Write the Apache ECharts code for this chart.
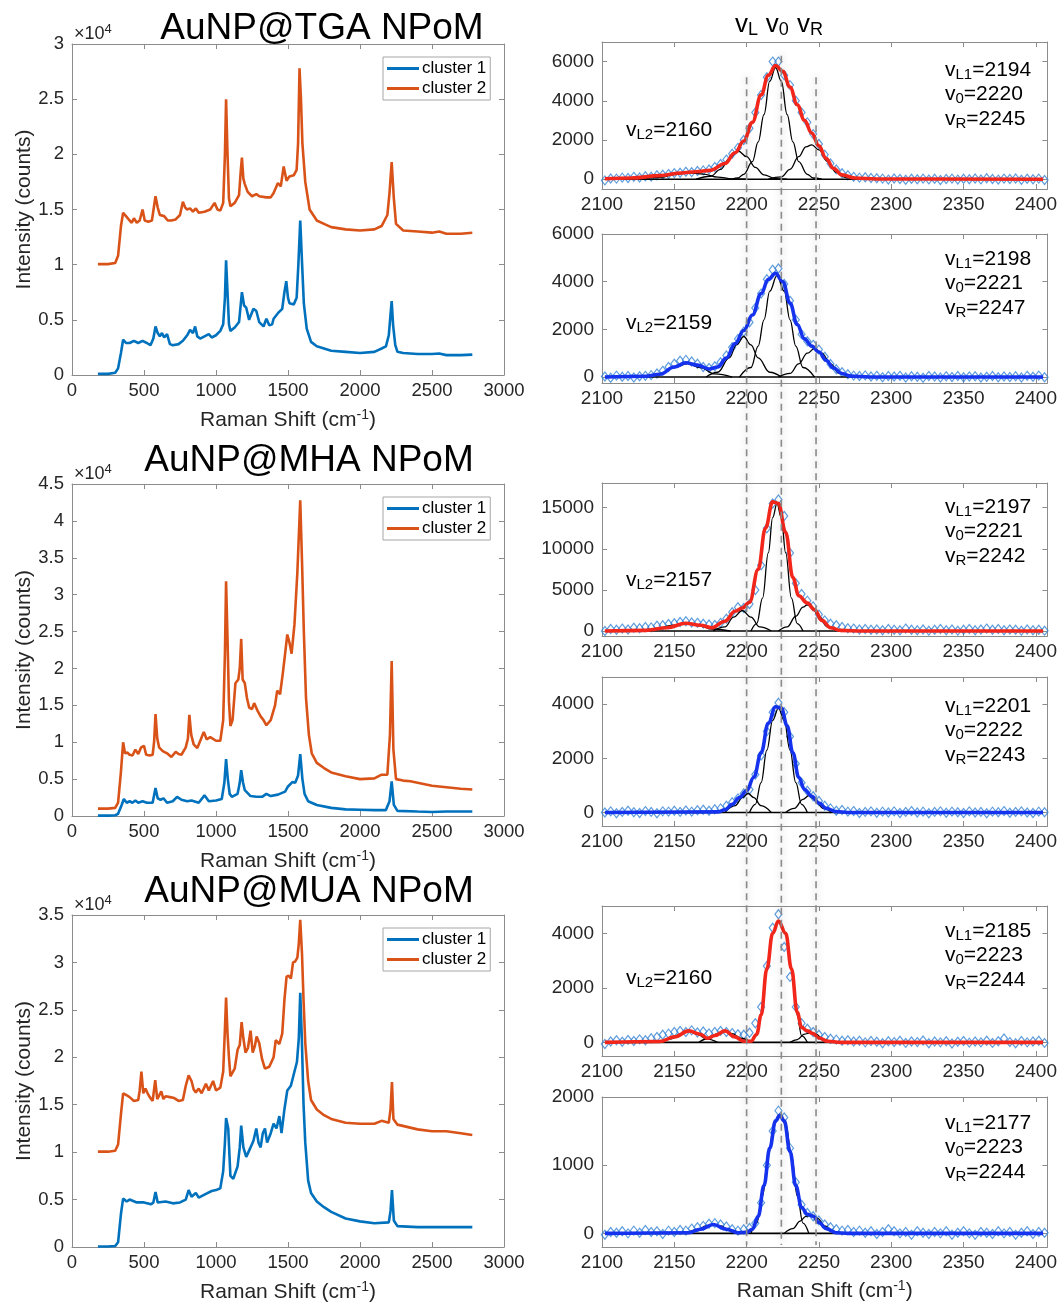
<!DOCTYPE html>
<html>
<head>
<meta charset="utf-8">
<title>Raman NPoM</title>
<script src="https://cdn.jsdelivr.net/npm/echarts@6/dist/echarts.min.js"></script>
<style>
    html, body { margin: 0; padding: 0; background: #fff; }
    #main { width: 1060px; height: 1304px; }
</style>
</head>
<body>
<div id="main"></div>
<script type="text/javascript">
var FONT = 'Liberation Sans, Arial, Helvetica, sans-serif';
var BLUE = '#0072BD', ORANGE = '#D95319';
var AXIS = '#8c8c8c', LABEL = '#262626';

// ---- left: full spectra, [shift, counts] ----
var tgaC1 = [[180,100],[250,100],[300,200],[320,600],[340,2000],[355,3200],[375,2900],[400,2900],[430,3100],[460,2900],[490,3100],[520,2900],[545,2700],[565,3300],[580,4400],[595,3800],[610,3500],[625,3800],[640,3400],[660,3700],[680,2800],[700,2700],[740,2800],[770,3100],[800,3600],[820,4100],[840,3800],[855,4400],[870,3500],[890,3300],[920,3500],[950,3700],[970,3400],[1000,3600],[1030,4000],[1050,4600],[1062,7000],[1070,10400],[1080,7500],[1090,4600],[1100,4000],[1130,4300],[1160,4800],[1180,7500],[1195,6300],[1210,6100],[1230,5000],[1260,6000],[1280,5800],[1300,4800],[1330,4400],[1350,5100],[1370,4500],[1390,4600],[1400,5100],[1430,5600],[1460,6000],[1475,7500],[1488,8500],[1500,7000],[1510,6500],[1540,6400],[1560,7000],[1572,10000],[1585,14000],[1598,10000],[1610,6500],[1630,4200],[1660,3000],[1700,2600],[1800,2200],[1900,2100],[2000,2000],[2100,2100],[2150,2400],[2180,2600],[2200,3600],[2212,5500],[2220,6700],[2230,4500],[2245,2700],[2260,2100],[2300,2000],[2400,1900],[2500,1900],[2550,1950],[2600,1800],[2700,1800],[2780,1850]];
var tgaC2 = [[180,10050],[250,10050],[300,10150],[320,10800],[340,13500],[355,14700],[375,14400],[400,14000],[415,13800],[430,14200],[450,13800],[470,14000],[490,15000],[505,14000],[530,13900],[555,14000],[580,16200],[595,15200],[610,14500],[640,14400],[665,14000],[690,14000],[720,14100],[750,14500],[770,15700],[785,15200],[800,15000],[820,15100],[840,14800],[860,15100],[880,14700],[920,14800],[960,15000],[990,15600],[1010,15000],[1030,14900],[1050,15600],[1062,20000],[1070,25000],[1080,20000],[1090,16000],[1100,15300],[1130,15600],[1160,16300],[1172,18500],[1180,19700],[1190,17800],[1200,17300],[1220,16600],[1250,16200],[1280,16400],[1300,16200],[1350,16100],[1380,16100],[1400,16500],[1430,17400],[1450,17100],[1470,18900],[1490,17600],[1510,18000],[1540,18100],[1560,18600],[1570,21000],[1580,27800],[1590,25000],[1600,21000],[1620,17500],[1650,15000],[1700,14000],[1750,13700],[1800,13400],[1900,13200],[2000,13100],[2100,13200],[2150,13500],[2190,14500],[2205,16500],[2220,19300],[2235,16000],[2250,13700],[2300,13100],[2400,13000],[2500,12900],[2550,13000],[2600,12800],[2700,12800],[2780,12900]];
var mhaC1 = [[180,50],[250,50],[300,100],[320,300],[345,1500],[360,2300],[380,1800],[400,2000],[420,1800],[440,2100],[460,1800],[490,2000],[520,1800],[560,1800],[580,3800],[595,2400],[615,2200],[635,2400],[660,1800],[700,2000],[730,2600],[760,2200],[800,2000],[830,2100],[880,1800],[920,2800],[950,2000],[1000,2100],[1040,2300],[1058,4500],[1070,7700],[1082,5000],[1095,3000],[1110,2600],[1150,3000],[1165,4500],[1175,6200],[1188,4500],[1200,3500],[1240,2700],[1280,2600],[1320,2600],[1350,3000],[1380,2700],[1430,2900],[1480,3300],[1500,4000],[1530,4600],[1550,4500],[1570,5500],[1585,8400],[1600,5000],[1615,3000],[1640,2000],[1700,1500],[1800,1100],[1900,900],[2000,850],[2100,800],[2180,800],[2205,2000],[2220,4700],[2235,1500],[2260,700],[2400,600],[2500,550],[2600,600],[2780,600]];
var mhaC2 = [[180,1000],[250,1000],[300,1100],[320,1800],[340,6000],[355,10000],[368,8500],[385,8600],[400,8300],[420,8200],[440,9000],[460,8400],[480,9300],[500,9500],[515,8300],[540,8200],[560,8300],[570,10000],[580,13800],[592,10500],[605,9300],[630,8800],[660,8500],[690,8000],[720,8700],[740,8400],[760,8300],[790,9300],[805,10500],[815,13700],[828,11000],[845,9700],[870,9200],[895,10400],[915,11400],[935,10400],[960,10700],[1000,10200],[1030,10200],[1050,13000],[1062,22000],[1070,31800],[1080,24000],[1090,15500],[1100,12200],[1115,13000],[1135,18000],[1155,18500],[1165,20000],[1175,24000],[1185,18500],[1200,18000],[1215,16000],[1230,14700],[1250,14500],[1265,15300],[1290,14200],[1310,13500],[1330,13000],[1350,12300],[1380,13000],[1410,15000],[1425,17000],[1445,16500],[1465,19500],[1480,22000],[1495,24600],[1510,23500],[1525,22000],[1545,26000],[1565,33000],[1585,42800],[1598,34000],[1610,25000],[1625,16000],[1645,11000],[1665,8500],[1700,7200],[1750,6500],[1800,5900],[1900,5400],[2000,5000],[2100,5100],[2150,5600],[2190,5600],[2208,11000],[2220,21000],[2232,9000],[2250,5000],[2300,4800],[2350,4700],[2400,4500],[2500,4100],[2600,3900],[2700,3700],[2780,3600]];
var muaC1 = [[180,50],[250,50],[300,100],[320,500],[340,3500],[355,5100],[380,4800],[400,5000],[450,4700],[500,4700],[550,4500],[565,4700],[580,5800],[595,4700],[650,4800],[700,4600],[750,4700],[790,5000],[810,6000],[830,5300],[860,5700],[880,5200],[930,5600],[970,5900],[1000,6000],[1030,6200],[1050,8000],[1062,11000],[1070,13600],[1085,12500],[1100,7500],[1120,7200],[1150,8500],[1165,10500],[1175,12800],[1190,10500],[1210,9500],[1240,10500],[1260,11200],[1280,12500],[1295,11000],[1310,10500],[1325,12000],[1340,12500],[1355,11000],[1380,12000],[1400,13000],[1420,12500],[1440,13800],[1455,12000],[1475,14500],[1495,16500],[1520,17000],[1545,18500],[1562,19500],[1575,22000],[1585,26800],[1596,22000],[1608,15000],[1620,11000],[1640,7000],[1660,5700],[1700,4800],[1750,4200],[1800,3700],[1900,3000],[2000,2700],[2100,2500],[2200,2600],[2212,3800],[2222,6000],[2235,2800],[2260,2200],[2400,2100],[2500,2100],[2600,2100],[2780,2100]];
var muaC2 = [[180,10050],[250,10050],[300,10150],[320,10800],[340,14000],[355,16200],[380,16000],[400,15800],[430,15400],[460,15500],[470,16500],[482,18500],[495,16200],[510,16700],[525,16200],[540,15800],[560,15400],[578,17600],[592,15600],[605,15500],[620,16400],[635,15600],[650,15900],[680,15800],[710,15700],[740,15400],[770,15500],[790,17000],[810,18100],[830,17500],[845,16600],[860,16300],[880,16700],[900,16200],[930,17200],[950,16500],[980,17500],[1000,16500],[1030,16800],[1050,18500],[1062,23000],[1070,26300],[1080,22500],[1090,20000],[1100,18000],[1130,18800],[1150,20800],[1165,21300],[1178,23700],[1190,22000],[1205,20500],[1222,21000],[1240,22800],[1255,20500],[1270,21200],[1282,22200],[1300,21500],[1320,19800],[1340,18800],[1370,19000],[1400,20000],[1415,21800],[1440,21400],[1460,22500],[1475,26000],[1490,28500],[1505,28600],[1520,28300],[1535,30000],[1550,30100],[1565,30500],[1575,32000],[1585,34500],[1597,31000],[1608,26000],[1620,21500],[1640,17500],[1660,15500],[1700,14500],[1750,13900],[1800,13500],[1900,13100],[2000,13000],[2100,13000],[2150,13300],[2200,13100],[2212,14500],[2222,17400],[2232,13500],[2260,12900],[2400,12400],[2500,12200],[2600,12200],[2700,12000],[2780,11800]];

var leftTitles = ['AuNP@TGA NPoM', 'AuNP@MHA NPoM', 'AuNP@MUA NPoM'];
var leftSpectra = [[tgaC1, tgaC2], [mhaC1, mhaC2], [muaC1, muaC2]];
var leftYMax = [30000, 45000, 35000];
var leftXTicks = [0, 500, 1000, 1500, 2000, 2500, 3000];

// ---- right: nitrile band fits ----
var rsX = [2102,2106,2110,2114,2118,2122,2126,2130,2134,2138,
           2142,2146,2150,2154,2158,2162,2166,2170,2174,2178,
           2182,2186,2190,2194,2198,2202,2206,2210,2214,2218,
           2222,2226,2230,2234,2238,2242,2246,2250,2254,2258,
           2262,2266,2270,2274,2278,2282,2286,2290,2294,2298,
           2302,2306,2310,2314,2318,2322,2326,2330,2334,2338,
           2342,2346,2350,2354,2358,2362,2366,2370,2374,2378,
           2382,2386,2390,2394,2398,2402,2406];
var rsData1 = [-60,40,30,80,60,120,90,150,130,200,
               230,260,310,330,380,360,420,450,500,620,
               780,1000,1300,1600,2000,2600,3400,4300,5200,6000,
               6000,5300,4800,4000,3400,2900,2300,1800,1250,800,
               500,300,200,120,80,100,60,50,30,-20,
               40,10,-30,20,0,30,-10,20,-40,10,
               30,-20,20,0,40,-10,50,10,-20,30,
               10,40,-30,20,0,30,-40];
var rsData2 = [20,-30,60,10,40,-20,30,50,80,150,
               260,420,560,680,720,650,560,420,380,450,
               620,900,1250,1600,1900,2300,2900,3500,4100,4500,
               4550,3900,3200,2400,1800,1500,1350,1150,850,550,
               330,200,120,60,40,70,20,50,-10,40,
               20,50,-20,30,10,-30,40,20,-20,30,
               0,40,-10,20,30,-20,10,40,-10,20,
               0,30,-20,50,10,60,-10];
var rsData3 = [0,250,150,300,200,400,350,500,450,650,
               700,850,950,1100,1200,1050,1000,900,800,750,
               1000,1500,2300,2900,2800,3300,5000,8000,12500,15500,
               16000,14000,9500,5800,4500,3700,3000,2000,1300,900,
               700,500,350,300,200,250,150,200,100,250,
               150,100,300,150,100,200,50,150,250,100,
               200,50,150,250,100,200,300,150,250,100,
               200,150,50,200,100,150,50];
var rsData4 = [0,40,-30,20,60,10,-20,50,20,-30,
               40,30,60,20,70,30,80,100,60,120,
               150,250,380,520,700,850,1400,2100,3000,3700,
               4050,3700,2800,1800,1100,800,600,420,250,150,
               60,90,30,50,-20,20,40,-10,30,0,
               40,-20,20,50,0,30,-30,20,40,-10,
               30,10,-20,40,0,20,-30,30,10,50,
               -10,20,40,0,-20,30,10];
var rsData5 = [-60,30,80,20,90,50,110,80,150,200,
               280,320,380,420,380,440,360,400,330,380,
               420,380,340,300,280,350,700,1300,2800,4200,
               4700,3500,2400,1300,700,500,380,280,200,130,
               100,60,80,30,60,0,50,20,-30,40,
               10,60,-20,30,10,70,-30,30,0,40,
               -40,20,50,-10,30,0,60,-20,40,140,
               10,-30,50,0,30,60,-20];
var rsData6 = [-20,20,10,30,0,40,10,50,20,30,
               -10,40,20,50,40,70,90,110,140,150,
               130,100,60,40,60,80,150,450,1000,1500,
               1800,1700,1250,750,420,300,250,190,130,90,
               60,40,50,20,40,10,30,-10,20,60,
               30,0,20,-20,30,10,-10,20,0,30,
               -20,10,30,0,-20,20,10,-10,30,0,
               20,-20,10,30,-10,20,10];

var fit1 = [[2102,20],[2120,60],[2140,180],[2155,320],[2165,380],[2175,450],[2185,800],[2192,1350],[2198,1950],[2204,2900],[2210,4300],[2215,5300],[2220,5800],[2225,5500],[2230,4700],[2235,3800],[2240,3000],[2245,2350],[2250,1700],[2255,1050],[2260,550],[2266,220],[2275,60],[2290,10],[2405,0]];
var fit2 = [[2102,0],[2130,30],[2140,120],[2150,420],[2158,600],[2166,500],[2174,340],[2180,420],[2186,800],[2192,1400],[2198,1950],[2204,2600],[2210,3500],[2215,4100],[2220,4350],[2225,4000],[2230,3100],[2235,2200],[2240,1600],[2245,1300],[2250,1050],[2255,700],[2260,380],[2266,150],[2272,40],[2285,0],[2405,0]];
var fit3 = [[2102,0],[2130,80],[2145,400],[2158,950],[2168,700],[2176,400],[2185,1200],[2192,2400],[2197,2800],[2202,3500],[2208,7500],[2213,12500],[2218,15700],[2222,15500],[2227,12000],[2232,6500],[2236,4300],[2242,3400],[2247,2600],[2252,1300],[2258,400],[2265,80],[2280,0],[2405,0]];
var fit4 = [[2102,0],[2180,20],[2185,100],[2190,300],[2195,550],[2200,800],[2205,1300],[2210,2200],[2215,3300],[2220,3900],[2224,3850],[2228,3200],[2232,2200],[2236,1300],[2240,850],[2245,600],[2250,350],[2255,150],[2262,30],[2270,0],[2405,0]];
var fit5 = [[2102,0],[2140,30],[2150,200],[2160,420],[2168,300],[2173,150],[2178,250],[2185,420],[2192,200],[2198,40],[2203,40],[2207,300],[2210,1000],[2214,2700],[2218,4000],[2222,4450],[2227,4000],[2231,2700],[2235,1100],[2238,550],[2242,420],[2246,320],[2250,160],[2256,40],[2265,0],[2405,0]];
var fit6 = [[2102,0],[2160,10],[2168,60],[2177,130],[2186,60],[2194,10],[2200,15],[2204,60],[2208,250],[2212,700],[2216,1250],[2220,1650],[2223,1730],[2226,1650],[2230,1200],[2234,700],[2238,380],[2242,280],[2246,250],[2250,160],[2255,70],[2262,10],[2270,0],[2405,0]];

var comps1 = [
    [[2125,0],[2140,90],[2150,230],[2160,330],[2170,260],[2180,110],[2190,20],[2200,0]],
    [[2165,0],[2175,150],[2182,500],[2188,1050],[2194,1450],[2200,1150],[2206,600],[2212,220],[2220,30],[2228,0]],
    [[2190,0],[2194,60],[2198,250],[2204,900],[2208,1900],[2212,3300],[2216,5000],[2220,5700],[2224,5000],[2228,3300],[2232,1900],[2236,900],[2242,250],[2246,60],[2252,0]],
    [[2215,0],[2224,120],[2230,500],[2236,1150],[2241,1650],[2245,1750],[2250,1500],[2256,900],[2262,350],[2268,90],[2276,0]]
];
var comps2 = [
    [[2128,0],[2140,130],[2150,400],[2159,560],[2168,400],[2178,130],[2190,0]],
    [[2172,0],[2180,200],[2188,800],[2193,1350],[2198,1700],[2203,1350],[2208,800],[2216,200],[2224,0]],
    [[2195,0],[2203,400],[2208,1300],[2212,2400],[2216,3600],[2221,4250],[2226,3600],[2230,2400],[2234,1300],[2239,400],[2247,0]],
    [[2222,0],[2230,150],[2236,550],[2242,1000],[2247,1200],[2252,1000],[2258,550],[2264,150],[2272,0]]
];
var comps3 = [
    [[2125,0],[2138,250],[2148,700],[2157,950],[2166,700],[2176,250],[2189,0]],
    [[2177,0],[2185,500],[2191,1700],[2197,2500],[2203,1700],[2209,500],[2217,0]],
    [[2203,0],[2207,900],[2211,4000],[2215,9500],[2218,13800],[2221,15500],[2224,13800],[2227,9500],[2231,4000],[2235,900],[2239,0]],
    [[2222,0],[2228,500],[2234,1800],[2239,2900],[2242,3200],[2245,2900],[2250,1800],[2256,500],[2262,0]]
];
var comps4 = [
    [[2185,0],[2192,250],[2197,550],[2201,700],[2205,550],[2210,250],[2217,0]],
    [[2202,0],[2206,300],[2210,1100],[2214,2300],[2218,3400],[2222,3850],[2226,3400],[2230,2300],[2234,1100],[2238,300],[2242,0]],
    [[2227,0],[2233,150],[2239,480],[2243,620],[2247,480],[2253,150],[2259,0]]
];
var comps5 = [
    [[2140,0],[2148,130],[2154,300],[2160,420],[2166,300],[2172,130],[2180,0]],
    [[2167,0],[2174,150],[2180,320],[2185,420],[2190,320],[2196,150],[2203,0]],
    [[2203,0],[2207,250],[2210,1000],[2214,2700],[2218,4000],[2222,4450],[2227,4000],[2231,2700],[2235,1000],[2238,250],[2242,0]],
    [[2230,0],[2235,100],[2240,300],[2244,350],[2248,300],[2253,100],[2258,0]]
];
var comps6 = [
    [[2158,0],[2166,50],[2172,110],[2177,130],[2182,110],[2188,50],[2196,0]],
    [[2203,0],[2207,150],[2211,550],[2215,1150],[2219,1600],[2223,1730],[2227,1600],[2231,1150],[2235,550],[2239,150],[2243,0]],
    [[2226,0],[2232,70],[2237,180],[2241,250],[2245,270],[2249,220],[2254,110],[2260,30],[2266,0]]
];

var rightData = [rsData1, rsData2, rsData3, rsData4, rsData5, rsData6];
var rightFits = [fit1, fit2, fit3, fit4, fit5, fit6];
var rightComps = [comps1, comps2, comps3, comps4, comps5, comps6];
var rightFitColor = ['#f2261b', '#1533ee', '#f2261b', '#1533ee', '#f2261b', '#1533ee'];
var rightYMin = [-500, -250, -600, -500, -500, -200];
var rightYMax = [7000, 6000, 18000, 5000, 5000, 2000];
var rightYTicks = [[0,2000,4000,6000], [0,2000,4000,6000], [0,5000,10000,15000], [0,2000,4000], [0,2000,4000], [0,1000,2000]];
var rightXTicks = [2100, 2150, 2200, 2250, 2300, 2350, 2400];

var peakL1 = [2194, 2198, 2197, 2201, 2185, 2177];
var peak0 = [2220, 2221, 2221, 2222, 2223, 2223];
var peakR = [2245, 2247, 2242, 2243, 2244, 2244];
var peakL2 = [2160, 2159, 2157, null, 2160, null];
var guideShift = [2200, 2224, 2248];

// ---- layout ----
var leftTops = [44, 484, 915], leftHeights = [331, 332, 332];
var rightTops = [42, 234, 483, 677, 906, 1097], rightHeights = [147, 149, 153, 149, 150, 150];
var annTop = [70, 259, 507, 706, 931, 1123];
var l2Top = [130, 323, 580, null, 978, null];

var grids = [], xAxes = [], yAxes = [], series = [], legends = [];

function plain(v) { return String(v); }
function tickCfg(vals) {
    return {show: true, inside: true, length: 5, customValues: vals, lineStyle: {color: AXIS}};
}
function addPanel(box, xr, xt, yr, yt, fs, yfmt) {
    var gi = grids.length;
    grids.push({left: box[0], top: box[1], width: box[2], height: box[3]});
    var line = {show: true, onZero: false, lineStyle: {color: AXIS, width: 1}};
    var xi = xAxes.length, yi = yAxes.length;
    xAxes.push({type: 'value', gridIndex: gi, min: xr[0], max: xr[1], axisLine: line, axisTick: tickCfg(xt),
        splitLine: {show: false},
        axisLabel: {customValues: xt, fontSize: fs, color: LABEL, fontFamily: FONT, margin: 6, formatter: plain}});
    xAxes.push({type: 'value', gridIndex: gi, position: 'top', min: xr[0], max: xr[1], axisLine: line,
        axisTick: tickCfg(xt), axisLabel: {show: false}, splitLine: {show: false}});
    yAxes.push({type: 'value', gridIndex: gi, min: yr[0], max: yr[1], axisLine: line, axisTick: tickCfg(yt),
        splitLine: {show: false},
        axisLabel: {customValues: yt, fontSize: fs, color: LABEL, fontFamily: FONT, margin: 8, formatter: yfmt || plain}});
    yAxes.push({type: 'value', gridIndex: gi, position: 'right', min: yr[0], max: yr[1], axisLine: line,
        axisTick: tickCfg(yt), axisLabel: {show: false}, splitLine: {show: false}});
    return {x: xi, y: yi};
}

var nameRich = {sup: {fontSize: 14, padding: [0, 0, 10, 0], color: LABEL, fontFamily: FONT}};
var ramanName = 'Raman Shift (cm{sup|-1})';

// left panels
var leftIdx = [];
for (var i = 0; i < 3; i++) {
    var yt = [];
    for (var v = 0; v <= leftYMax[i]; v += 5000) yt.push(v);
    var ix = addPanel([72, leftTops[i], 432, leftHeights[i]], [0, 3000], leftXTicks, [0, leftYMax[i]], yt, 18.5,
        function (val) { return String(val / 10000); });
    leftIdx.push(ix);
    var xa = xAxes[ix.x], ya = yAxes[ix.y];
    xa.name = ramanName; xa.nameLocation = 'middle'; xa.nameGap = 33;
    xa.nameTextStyle = {fontSize: 21, color: LABEL, fontFamily: FONT, rich: nameRich};
    ya.name = 'Intensity (counts)'; ya.nameLocation = 'middle'; ya.nameGap = 37;
    ya.nameTextStyle = {fontSize: 21, color: LABEL, fontFamily: FONT};
    var names = ['cluster 1', 'cluster 2'], cols = [BLUE, ORANGE];
    for (var c = 0; c < 2; c++) {
        series.push({type: 'line', name: names[c], xAxisIndex: ix.x, yAxisIndex: ix.y, data: leftSpectra[i][c],
            showSymbol: false, color: cols[c], lineStyle: {width: 2.6, color: cols[c]}, z: 3 + c});
    }
    legends.push({data: names, orient: 'vertical', left: 383, top: leftTops[i] + 13, icon: 'rect',
        itemWidth: 32, itemHeight: 3, itemGap: 3, padding: [3, 4, 3, 4], backgroundColor: '#fff',
        borderColor: '#a6a6a6', borderWidth: 1, selectedMode: false,
        textStyle: {fontSize: 17, color: '#000', fontFamily: FONT, padding: [0, 0, 0, -2]}});
}

// right panels
var rightIdx = [];
for (var p = 0; p < 6; p++) {
    var ix2 = addPanel([602, rightTops[p], 446, rightHeights[p]], [2100, 2408], rightXTicks,
        [rightYMin[p], rightYMax[p]], rightYTicks[p], 19, null);
    rightIdx.push(ix2);
    var pts = [];
    for (var k = 0; k < rsX.length; k++) pts.push([rsX[k], rightData[p][k]]);
    series.push({type: 'scatter', name: 'data' + p, xAxisIndex: ix2.x, yAxisIndex: ix2.y, data: pts,
        symbol: 'diamond', symbolSize: [7, 9], z: 2,
        itemStyle: {color: 'rgba(255,255,255,0)', borderColor: '#3583d4', borderWidth: 1.2}});
    series.push({type: 'line', name: 'base' + p, xAxisIndex: ix2.x, yAxisIndex: ix2.y,
        data: [[2102, 0], [2405, 0]], showSymbol: false, lineStyle: {color: '#000', width: 1.6}, z: 3});
    for (var m = 0; m < rightComps[p].length; m++) {
        series.push({type: 'line', name: 'comp' + p + m, xAxisIndex: ix2.x, yAxisIndex: ix2.y,
            data: rightComps[p][m], showSymbol: false, smooth: 0.4, smoothMonotone: 'x',
            lineStyle: {color: '#000', width: 1.3}, z: 3});
    }
    series.push({type: 'line', name: 'fit' + p, xAxisIndex: ix2.x, yAxisIndex: ix2.y, data: rightFits[p],
        showSymbol: false, smooth: 0.4, smoothMonotone: 'x',
        lineStyle: {color: rightFitColor[p], width: 3.6}, z: 4});
}
var lastX = xAxes[rightIdx[5].x];
lastX.name = ramanName; lastX.nameLocation = 'middle'; lastX.nameGap = 32;
lastX.nameTextStyle = {fontSize: 21, color: LABEL, fontFamily: FONT, rich: nameRich};

var chart = echarts.init(document.getElementById('main'));
chart.setOption({
    animation: false,
    backgroundColor: '#fff',
    textStyle: {fontFamily: FONT},
    grid: grids, xAxis: xAxes, yAxis: yAxes, legend: legends, series: series
});

// ---- annotations & guide lines ----
var g = [];
function txt(x, y, text, size, align, rich) {
    return {type: 'text', x: x, y: y, z: 100, silent: true,
        style: {text: text, fontSize: size, fontFamily: FONT, fill: '#000', align: align || 'left',
            verticalAlign: 'middle', rich: rich}};
}
var subRich = {s: {fontSize: 15, fontFamily: FONT, fill: '#000', padding: [9, 0, 0, 0]}};
var subRichBig = {s: {fontSize: 18, fontFamily: FONT, fill: '#000', padding: [11, 0, 0, 0]}};
var supRich = {p: {fontSize: 13, fontFamily: FONT, fill: LABEL, padding: [0, 0, 9, 0]}};
var titleX = [322, 309, 309], titleY = [29, 461, 892];
for (var t = 0; t < 3; t++) {
    g.push(txt(titleX[t], titleY[t], leftTitles[t], 37, 'center'));
    var e = txt(74, leftTops[t] - 10, '\u00d710{p|4}', 18, 'left', supRich);
    e.style.fill = LABEL;
    g.push(e);
}
for (var q = 0; q < 6; q++) {
    g.push(txt(945, annTop[q], 'v{s|L1}=' + peakL1[q], 21, 'left', subRich));
    g.push(txt(945, annTop[q] + 24.5, 'v{s|0}=' + peak0[q], 21, 'left', subRich));
    g.push(txt(945, annTop[q] + 49, 'v{s|R}=' + peakR[q], 21, 'left', subRich));
    if (peakL2[q] !== null) g.push(txt(626, l2Top[q], 'v{s|L2}=' + peakL2[q], 21, 'left', subRich));
}
var topNames = ['L', '0', 'R'], topShift = [0, -4, -6];
var yTop = [chart.convertToPixel({yAxisIndex: rightIdx[0].y}, 5200),
            chart.convertToPixel({yAxisIndex: rightIdx[0].y}, 6300),
            chart.convertToPixel({yAxisIndex: rightIdx[0].y}, 5200)];
var yBot = chart.convertToPixel({yAxisIndex: rightIdx[5].y}, -200) - 2;
for (var d = 0; d < 3; d++) {
    var px = chart.convertToPixel({xAxisIndex: rightIdx[0].x}, guideShift[d]);
    g.push({type: 'line', z: 90, silent: true,
        shape: {x1: px, y1: yTop[d], x2: px, y2: yBot},
        style: {stroke: '#8a8a8a', lineWidth: 1.6, lineDash: [7, 5],
            shadowBlur: 7, shadowColor: 'rgba(0,0,0,0.35)'}});
    g.push(txt(px + topShift[d], 25, 'v{s|' + topNames[d] + '}', 26, 'center', subRichBig));
}
chart.setOption({graphic: g});
</script>
</body>
</html>
